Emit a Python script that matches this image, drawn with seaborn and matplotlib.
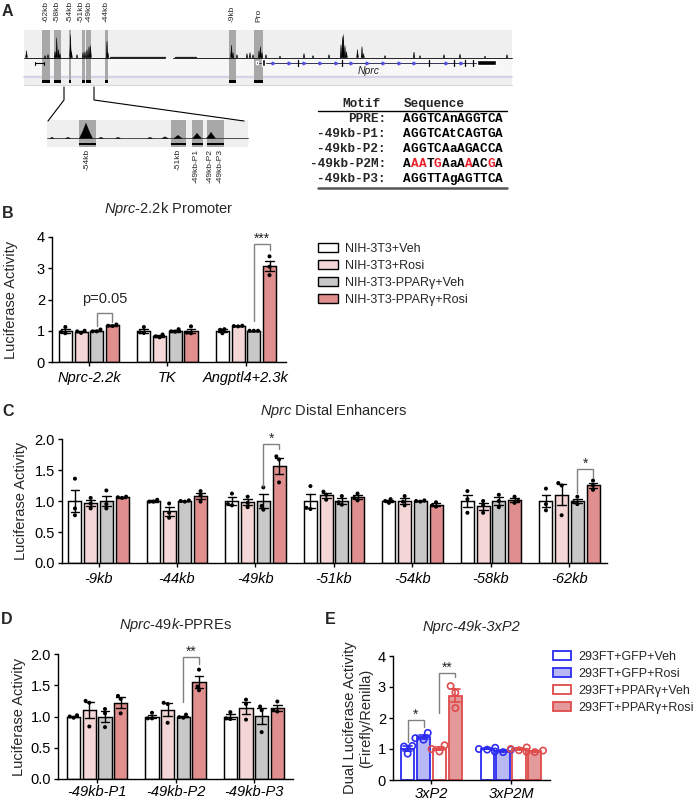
import numpy as np
import pandas as pd
import matplotlib
matplotlib.use("Agg")
import matplotlib.pyplot as plt
import seaborn as sns
from matplotlib.patches import Rectangle, Patch, Polygon

sns.set_style("ticks")
plt.rcParams["font.family"] = ["Liberation Sans", "DejaVu Sans"]
plt.rcParams["mathtext.fontset"] = "custom"
plt.rcParams["mathtext.it"] = "Liberation Sans:italic"
plt.rcParams["mathtext.rm"] = "Liberation Sans"
plt.rcParams["mathtext.bf"] = "Liberation Sans:bold"

# ---------------------------------------------------------------- data
nih_conds = ["NIH-3T3+Veh", "NIH-3T3+Rosi", "NIH-3T3-PPARγ+Veh", "NIH-3T3-PPARγ+Rosi"]
nih_colors = ["#FFFFFF", "#F5D6D6", "#C8C8C8", "#E08E8E"]

b_groups = ["Nprc-2.2k", "TK", "Angptl4+2.3k"]
b_nprc = [[1.12, 0.96, 0.92], [1.00, 0.98, 0.93], [1.04, 0.98, 0.98], [1.20, 1.15, 1.16]]
b_tk = [[1.12, 0.95, 0.93], [0.88, 0.82, 0.79], [1.05, 0.98, 0.97], [1.14, 0.94, 0.92]]
b_angptl4 = [[1.05, 1.03, 0.92], [1.16, 1.15, 1.14], [1.00, 1.00, 1.00], [3.38, 3.05, 2.78]]

c_groups = ["-9kb", "-44kb", "-49kb", "-51kb", "-54kb", "-58kb", "-62kb"]
c_9kb = [[1.36, 0.88, 0.77], [1.05, 0.96, 0.88], [1.17, 0.95, 0.88], [1.07, 1.06, 1.05]]
c_44kb = [[1.02, 0.99, 0.99], [0.96, 0.81, 0.73], [1.01, 0.99, 1.00], [1.16, 1.09, 0.99]]
c_49kb = [[1.12, 0.95, 0.93], [1.07, 0.97, 0.90], [1.22, 0.92, 0.86], [1.72, 1.67, 1.30]]
c_51kb = [[1.24, 0.89, 0.87], [1.15, 1.10, 1.02], [1.08, 0.98, 0.94], [1.12, 1.05, 1.01]]
c_54kb = [[1.03, 1.00, 0.97], [1.08, 0.99, 0.93], [1.01, 1.00, 0.99], [0.98, 0.93, 0.91]]
c_58kb = [[1.16, 1.03, 0.81], [1.00, 0.93, 0.81], [1.10, 1.00, 0.90], [1.07, 1.00, 0.97]]
c_62kb = [[1.20, 0.95, 0.85], [1.29, 1.25, 0.77], [1.07, 0.98, 0.95], [1.33, 1.25, 1.18]]

d_groups = ["-49kb-P1", "-49kb-P2", "-49kb-P3"]
d_p1 = [[1.02, 1.00, 0.98], [1.25, 1.22, 0.84], [1.12, 1.05, 0.83], [1.33, 1.28, 1.05]]
d_p2 = [[1.06, 0.97, 0.97], [1.22, 1.20, 0.90], [1.03, 0.99, 0.98], [1.75, 1.48, 1.42]]
d_p3 = [[1.07, 0.97, 0.96], [1.27, 1.20, 0.95], [1.16, 1.10, 0.75], [1.24, 1.10, 1.08]]

e_conds = ["293FT+GFP+Veh", "293FT+GFP+Rosi", "293FT+PPARγ+Veh", "293FT+PPARγ+Rosi"]
e_fill = ["#FFFFFF", "#B8B8F5", "#FFFFFF", "#E49A9A"]
e_edge = ["#2C2CF2", "#2C2CF2", "#E04B4B", "#E04B4B"]
e_groups = ["3xP2", "3xP2M"]
e_3xp2 = [[1.10, 1.08, 0.85], [1.52, 1.35, 1.30], [1.12, 1.00, 0.92], [3.03, 2.82, 2.32]]
e_3xp2m = [[1.04, 1.00, 0.98], [0.98, 0.92, 0.90], [1.05, 1.00, 0.96], [0.95, 0.91, 0.90]]

# significance brackets: (group, hue1, hue2, top, leg1 bottom, leg2 bottom, text)
b_brackets = [(0, 2, 3, 1.58, 1.16, 1.29, "p=0.05"), (2, 2, 3, 3.77, 1.30, 3.58, "***")]
c_brackets = [(2, 2, 3, 1.92, 1.24, 1.84, "*"), (6, 2, 3, 1.52, 1.13, 1.37, "*")]
d_brackets = [(1, 2, 3, 1.95, 1.23, 1.84, "**")]
e_brackets = [(0, 0, 1, 1.94, 1.24, 1.72, "*"), (0, 2, 3, 3.46, 2.15, 3.31, "**")]

# panel A schematic (positions along the browser track, in track units)
track_labels = ["-62kb", "-58kb", "-54kb", "-51kb", "-49kb", "-44kb", "-9kb", "Pro"]
track_label_x = [46, 57.5, 70, 80.7, 89, 106.5, 232, 259]
track_highlights = [(42, 49.5), (54, 61), (69, 71.2), (82.3, 84.7), (86.3, 91),
                    (105.3, 107.5), (229, 236.3), (254.3, 263)]
track_peak_x = [26.5, 45, 48, 55, 56.7, 58.5, 60, 70.5, 71.5, 77, 83, 85, 87, 89, 90.5,
                107, 108, 231.5, 233, 237, 247, 250, 253, 259, 260.5, 262, 266, 280, 304,
                313, 329, 341, 342.5, 343.5, 345, 346.5, 357.5, 362, 363.5, 385, 414,
                420, 444, 460, 485, 507]
track_peak_h = [7, 2, 3, 6, 20, 8, 4, 23, 6, 3, 5, 6, 8, 11, 12,
                16.5, 5, 12.5, 5, 3, 4, 5, 3, 7, 11, 5, 3, 1.5, 4,
                2, 3, 13, 21, 23, 12, 6, 8, 11, 4, 2, 5.5,
                2, 3, 3.5, 1.5, 3]
exon_x = [297.5, 341.7, 429.3, 454, 464.5, 472.7]
inset_highlights = [(79, 95.7), (171, 185.7), (191.7, 202.7), (207.3, 215.7), (216.3, 224)]
inset_labels = ["-54kb", "-51kb", "-49kb-P1", "-49kb-P2", "-49kb-P3"]
inset_label_x = [87, 178, 196.5, 210.5, 220]
inset_peak_x = [86, 178, 197, 211, 52, 68, 101, 118, 150, 165]
inset_peak_h = [15, 3, 5, 6, 1, 1, 1, 1, 1, 1.5]
inset_peak_w = [13, 8, 9, 9, 4, 5, 5, 5, 5, 6]

motif_names = ["PPRE:", "-49kb-P1:", "-49kb-P2:", "-49kb-P2M:", "-49kb-P3:"]
motif_seqs = ["AGGTCAnAGGTCA", "AGGTCAtCAGTGA", "AGGTCAaAGACCA", "AAATGAaAAACGA", "AGGTTAgAGTTCA"]
p2m_mutated = [1, 2, 4, 8, 11]

# ---------------------------------------------------------------- figure
W, H = 697, 801
fig = plt.figure(figsize=(W / 100, H / 100), dpi=100)

def px_axes(left, right, top, bottom):
    return fig.add_axes([left / W, 1 - bottom / H, (right - left) / W, (bottom - top) / H])

def ftext(x, y, s, **kw):
    fig.text(x / W, 1 - y / H, s, **kw)

# ---------------------------------------------------------------- panel A
axA = fig.add_axes([0, 0, 1, 1])
axA.set_xlim(0, W)
axA.set_ylim(H, 0)
axA.axis("off")

base = 57.5
axA.add_patch(Rectangle((24, 30), 488, 55, facecolor="#EFEFEF", edgecolor="none", zorder=1))
axA.add_patch(Rectangle((24, 58), 488, 17, facecolor="#F7F7F7", edgecolor="none", zorder=1))
axA.plot([24, 512], [77.2, 77.2], color="#D4D4E6", lw=1.4, zorder=2)
axA.plot([24, 512], [85, 85], color="#D9D9D9", lw=0.8, zorder=2)
for x0, x1 in track_highlights:
    axA.add_patch(Rectangle((x0, 30), x1 - x0, 53, facecolor="#A8A8A8", edgecolor="none", zorder=2))
    axA.add_patch(Rectangle((x0, 80.3), x1 - x0, 2.3, facecolor="k", edgecolor="none", zorder=3))
axA.plot([24, 165], [base, base], color="k", lw=0.6, zorder=4)
axA.plot([173, 512], [base, base], color="k", lw=0.6, zorder=4)
axA.plot([110, 165], [base - 0.3, base - 0.3], color="#222222", lw=0.9, zorder=4)
axA.plot([175, 196], [base - 0.3, base - 0.3], color="#222222", lw=0.9, zorder=4)

def peak(ax, x, h, w, b):
    pts = [(x - w / 2, b), (x - w / 4, b - h * 0.45), (x, b - h), (x + w / 4, b - h * 0.45), (x + w / 2, b)]
    ax.add_patch(Polygon(pts, closed=True, facecolor="k", edgecolor="k", lw=0.3, zorder=5))

for x, h in zip(track_peak_x, track_peak_h):
    peak(axA, x, h, 1.8, base)

# gene models
axA.plot([257, 477], [62.5, 62.5], color="#333355", lw=0.7, zorder=4)
axA.add_patch(Rectangle((255.8, 61), 2.6, 3, facecolor="k", zorder=5))
axA.add_patch(Rectangle((262.3, 59), 2.4, 7, facecolor="k", zorder=5))
axA.add_patch(Rectangle((477, 60), 19, 5, facecolor="k", zorder=5))
for x in exon_x:
    axA.plot([x, x], [59.5, 65.5], color="k", lw=0.9, zorder=5)
intron_marks = [x for x in np.arange(273, 472, 15.7) if min(abs(x - e) for e in exon_x) > 3]
axA.plot(intron_marks, [62.5] * len(intron_marks), ls="none", marker=">", ms=2,
         color="#5050E0", zorder=5)
axA.plot([35, 44], [63, 63], color="k", lw=0.8, zorder=4)
axA.plot([35, 35], [61.5, 64.5], color="k", lw=0.8, zorder=4)
axA.plot([44, 44], [61.5, 64.5], color="k", lw=0.8, zorder=4)
axA.text(369, 71.5, "Nprc", fontsize=7.5, fontstyle="italic", ha="center", va="center", zorder=6)

for lab, x in zip(track_labels, track_label_x):
    axA.text(x, 21.5, lab, rotation=90, ha="center", va="bottom", fontsize=6)

# zoom lines
axA.plot([64, 64, 48], [87, 100, 121], color="k", lw=0.8)
axA.plot([94, 94, 244], [87, 100, 121], color="k", lw=0.8)

# inset
ib = 138.3
axA.add_patch(Rectangle((47, 120), 201, 27, facecolor="#EFEFEF", edgecolor="none", zorder=1))
for x0, x1 in inset_highlights:
    axA.add_patch(Rectangle((x0, 120), x1 - x0, 27, facecolor="#A8A8A8", edgecolor="none", zorder=2))
    axA.add_patch(Rectangle((x0, 143), x1 - x0, 2.4, facecolor="k", edgecolor="none", zorder=3))
axA.plot([47, 248], [ib, ib], color="#333333", lw=0.6, zorder=4)
for x, h, w in zip(inset_peak_x, inset_peak_h, inset_peak_w):
    peak(axA, x, h, w, ib)
for lab, x in zip(inset_labels, inset_label_x):
    axA.text(x, 149, lab, rotation=90, ha="center", va="top", fontsize=6)

# motif table
mono = dict(family="Liberation Mono", weight="bold", fontsize=9.2)
cw = 0.6 * 9.2 * 100 / 72
axA.text(342, 104.3, "Motif", ha="left", va="center", **mono)
axA.text(403.3, 104.3, "Sequence", ha="left", va="center", **mono)
axA.plot([318, 507], [111, 111], color="k", lw=1.0)
axA.plot([318, 507], [188.3, 188.3], color="#555555", lw=1.8)
row_y = [119.3, 134.3, 149.3, 164, 179.3]
for r, (name, seq) in enumerate(zip(motif_names, motif_seqs)):
    axA.text(386, row_y[r], name, ha="right", va="center", **mono)
    for i, ch in enumerate(seq):
        col = "#E8202A" if (name == "-49kb-P2M:" and i in p2m_mutated) else "k"
        axA.text(403.3 + i * cw + cw / 2, row_y[r], ch, ha="center", va="center", color=col, **mono)

# ---------------------------------------------------------------- bar panels
OFFS = [-0.3, -0.1, 0.1, 0.3]

def to_df(groups, conds, group_vals):
    rows = []
    for g, vals in zip(groups, group_vals):
        for c, pts in zip(conds, vals):
            for v in pts:
                rows.append((g, c, v))
    return pd.DataFrame(rows, columns=["group", "cond", "value"])

def style_axes(ax, groups, ylim, yticks, yfmt, xlim, xpad):
    ax.set_xlim(*xlim)
    ax.set_ylim(*ylim)
    ax.set_yticks(yticks)
    ax.set_yticklabels([yfmt.format(v) for v in yticks], fontsize=10.5)
    ax.set_xticks(range(len(groups)))
    ax.set_xticklabels(groups, fontsize=10.5, fontstyle="italic")
    ax.set_xlabel("")
    ax.set_ylabel("")
    for s in ["top", "right"]:
        ax.spines[s].set_visible(False)
    for s in ["left", "bottom"]:
        ax.spines[s].set_linewidth(1.0)
        ax.spines[s].set_color("k")
    ax.tick_params(axis="both", direction="out", length=3, width=1.0, colors="k")
    ax.tick_params(axis="x", pad=xpad)
    ax.tick_params(axis="y", pad=2)
    ax.patch.set_alpha(0)

def brackets(ax, items):
    for g, h1, h2, top, y1, y2, txt in items:
        x1, x2 = g + OFFS[h1], g + OFFS[h2]
        ax.plot([x1, x1, x2, x2], [y1, top, top, y2], color="#808080", lw=1.0,
                clip_on=False, solid_joinstyle="miter", zorder=6)
        off = 7 if txt.startswith("p") else 1
        ax.annotate(txt, xy=((x1 + x2) / 2, top), xytext=(0, off), textcoords="offset points",
                    ha="center", va="baseline", fontsize=10.5 if txt.startswith("p") else 10,
                    annotation_clip=False)

def nih_panel(ax, groups, group_vals):
    df = to_df(groups, nih_conds, group_vals)
    sns.barplot(data=df, x="group", y="value", hue="cond", order=groups, hue_order=nih_conds,
                palette=nih_colors, saturation=1, errorbar="se", capsize=0.45, gap=0.17,
                width=0.8, edgecolor="k", linewidth=1.05,
                err_kws={"color": "k", "linewidth": 1.0}, legend=False, ax=ax)
    sns.swarmplot(data=df, x="group", y="value", hue="cond", order=groups, hue_order=nih_conds,
                  palette=["k"] * 4, dodge=True, size=2.9, legend=False, ax=ax)

# B
axB = px_axes(52, 286, 237, 362)
nih_panel(axB, b_groups, [b_nprc, b_tk, b_angptl4])
style_axes(axB, b_groups, (0, 4), [0, 1, 2, 3, 4], "{:.0f}", (-0.47, 2.51), 3.5)
brackets(axB, b_brackets)

# C
axC = px_axes(62, 607, 439, 563)
nih_panel(axC, c_groups, [c_9kb, c_44kb, c_49kb, c_51kb, c_54kb, c_58kb, c_62kb])
style_axes(axC, c_groups, (0, 2), [0, 0.5, 1.0, 1.5, 2.0], "{:.1f}", (-0.465, 6.478), 3.5)
brackets(axC, c_brackets)

# D
axD = px_axes(58, 293, 654, 779)
nih_panel(axD, d_groups, [d_p1, d_p2, d_p3])
style_axes(axD, d_groups, (0, 2), [0, 0.5, 1.0, 1.5, 2.0], "{:.1f}", (-0.5, 2.5), 1.0)
brackets(axD, d_brackets)

# E
axE = px_axes(393, 550, 656, 780)
dfE = to_df(e_groups, e_conds, [e_3xp2, e_3xp2m])
sns.barplot(data=dfE, x="group", y="value", hue="cond", order=e_groups, hue_order=e_conds,
            palette=e_fill, saturation=1, errorbar="se", capsize=0.45, gap=0.17, width=0.8,
            edgecolor="k", linewidth=1.3, err_kws={"color": "k", "linewidth": 1.2},
            legend=False, ax=axE)
for i, cont in enumerate(axE.containers):
    for p in cont:
        p.set_edgecolor(e_edge[i])
        p.set_linewidth(1.3)
for ln in axE.lines:
    xd = np.asarray(ln.get_xdata(), dtype=float)
    xm = np.nanmean(xd)
    slot = int(round((xm - round(xm)) / 0.2 + 1.5))
    ln.set_color(e_edge[min(max(slot, 0), 3)])
n_before = len(axE.collections)
sns.swarmplot(data=dfE, x="group", y="value", hue="cond", order=e_groups, hue_order=e_conds,
              palette=e_edge, dodge=True, size=4.5, legend=False, ax=axE)
for coll in axE.collections[n_before:]:
    fc = coll.get_facecolor()
    coll.set_edgecolor(fc)
    coll.set_facecolor("none")
    coll.set_linewidth(1.2)
style_axes(axE, e_groups, (0, 4), [0, 1, 2, 3, 4], "{:.0f}", (-0.484, 1.49), 2.0)
brackets(axE, e_brackets)

# ---------------------------------------------------------------- texts
for lab, x, y in [("A", 7, 11), ("B", 8, 213), ("C", 8, 412), ("D", 7, 619), ("E", 330, 619)]:
    ftext(x, y, lab, fontsize=11.5, fontweight="bold", ha="center", va="center")

ftext(169, 209, r"$\it{Nprc}$-2.2k Promoter", fontsize=10.5, ha="center", va="center")
ftext(334, 411, r"$\it{Nprc}$ Distal Enhancers", fontsize=10.5, ha="center", va="center")
ftext(175.5, 625, r"$\it{Nprc}$-$\it{49k}$-PPREs", fontsize=10.5, ha="center", va="center")
ftext(471.5, 627, "Nprc-49k-3xP2", fontsize=10.5, fontstyle="italic", ha="center", va="center")

ftext(11, 299.5, "Luciferase Activity", rotation=90, fontsize=10.5, ha="center", va="center")
ftext(21, 501, "Luciferase Activity", rotation=90, fontsize=10.5, ha="center", va="center")
ftext(19, 716.5, "Luciferase Activity", rotation=90, fontsize=10.5, ha="center", va="center")
ftext(358, 718, "Dual Luciferase Activity\n(Firefly/Renilla)", rotation=90, fontsize=10.5,
      ha="center", va="center", multialignment="center")

fig.legend(handles=[Patch(facecolor=c, edgecolor="k", linewidth=1.0) for c in nih_colors],
           labels=nih_conds, loc="upper left", bbox_to_anchor=(318 / W, 1 - 243 / H),
           frameon=False, fontsize=9, handlelength=1.6, handleheight=0.75,
           handletextpad=0.6, labelspacing=0.4, borderpad=0, borderaxespad=0)
fig.legend(handles=[Patch(facecolor=f, edgecolor=e, linewidth=1.3) for f, e in zip(e_fill, e_edge)],
           labels=e_conds, loc="upper left", bbox_to_anchor=(553 / W, 1 - 651 / H),
           frameon=False, fontsize=9, handlelength=1.4, handleheight=0.7,
           handletextpad=0.6, labelspacing=0.4, borderpad=0, borderaxespad=0)

fig.savefig("out.png", dpi=100)
